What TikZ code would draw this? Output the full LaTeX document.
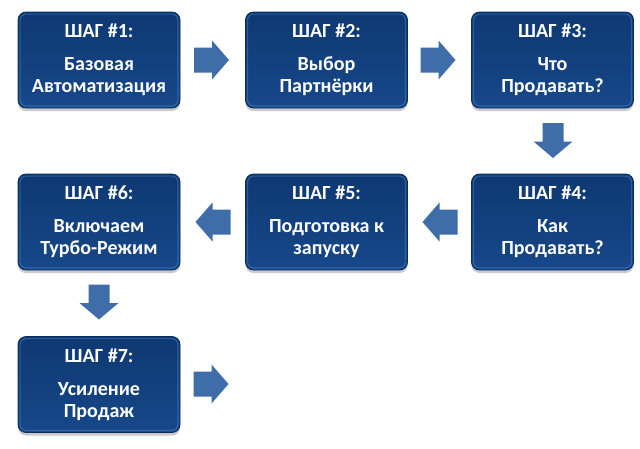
\documentclass[tikz,border=0pt]{standalone}
\usepackage{fontspec}
\setmainfont{Carlito}
\usetikzlibrary{shadows}
\definecolor{boxtop}{HTML}{0E3872}
\definecolor{boxmid}{HTML}{1F5AA0}
\definecolor{boxbot}{HTML}{17488A}
\definecolor{boxline}{HTML}{0B2C5C}
\definecolor{arrowblue}{HTML}{3F6DAA}
\definecolor{rimblue}{HTML}{4F88CC}
\tikzset{
  stepbox/.style={rounded corners=8pt, draw=boxline, line width=0.8pt,
    top color=boxtop, middle color=boxmid, bottom color=boxbot,
    minimum width=162pt, minimum height=96pt, inner sep=0pt,
    align=center, text=white, font=\fontsize{20}{22}\selectfont\bfseries,
    drop shadow={shadow xshift=0pt, shadow yshift=-3pt, opacity=0.35, fill=black!60}},
  rim/.style={draw=rimblue, opacity=0.45, line width=1.2pt, rounded corners=6pt},
  flowarrow/.style={fill=arrowblue, draw=none}
}
% right arrow centred at #1,#2 (length 35, head 39, shaft 25, head length 17)
\newcommand{\rarrow}[2]{\fill[flowarrow] (#1-17.5,#2-12.5) -- (#1+0.5,#2-12.5) -- (#1+0.5,#2-19.5) -- (#1+17.5,#2) -- (#1+0.5,#2+19.5) -- (#1+0.5,#2+12.5) -- (#1-17.5,#2+12.5) -- cycle;}
\newcommand{\larrow}[2]{\fill[flowarrow] (#1+17.5,#2-12.5) -- (#1-0.5,#2-12.5) -- (#1-0.5,#2-19.5) -- (#1-17.5,#2) -- (#1-0.5,#2+19.5) -- (#1-0.5,#2+12.5) -- (#1+17.5,#2+12.5) -- cycle;}
\newcommand{\darrow}[2]{\fill[flowarrow] (#1-10.5,#2-17.5) -- (#1-10.5,#2+1) -- (#1-19.5,#2+1) -- (#1,#2+17.5) -- (#1+19.5,#2+1) -- (#1+10.5,#2+1) -- (#1+10.5,#2-17.5) -- cycle;}
\begin{document}
\begin{tikzpicture}[x=1pt,y=-1pt]
\useasboundingbox (0,0) rectangle (640,448);
\node[stepbox] (s1) at (99,60) {ШАГ \#1:\\[11pt]Базовая\\Автоматизация};
\node[stepbox] (s2) at (326.5,60) {ШАГ \#2:\\[11pt]Выбор\\Партнёрки};
\node[stepbox] (s3) at (552.5,60) {ШАГ \#3:\\[11pt]Что\\Продавать?};
\node[stepbox] (s4) at (552.5,222) {ШАГ \#4:\\[11pt]Как\\Продавать?};
\node[stepbox] (s5) at (326.5,222) {ШАГ \#5:\\[11pt]Подготовка к\\запуску};
\node[stepbox] (s6) at (99,222) {ШАГ \#6:\\[11pt]Включаем\\Турбо-Режим};
\node[stepbox] (s7) at (99,384.5) {ШАГ \#7:\\[11pt]Усиление\\Продаж};
\foreach \n in {s1,s2,s3,s4,s5,s6,s7}
  \draw[rim] ([shift={(2.5,2.5)}]\n.north west) rectangle ([shift={(-2.5,-2.5)}]\n.south east);
\rarrow{211.5}{60}
\rarrow{438}{60}
\darrow{553}{140.5}
\larrow{440}{222}
\larrow{213}{222}
\darrow{99}{302}
\rarrow{211}{384}
\end{tikzpicture}
\end{document}
